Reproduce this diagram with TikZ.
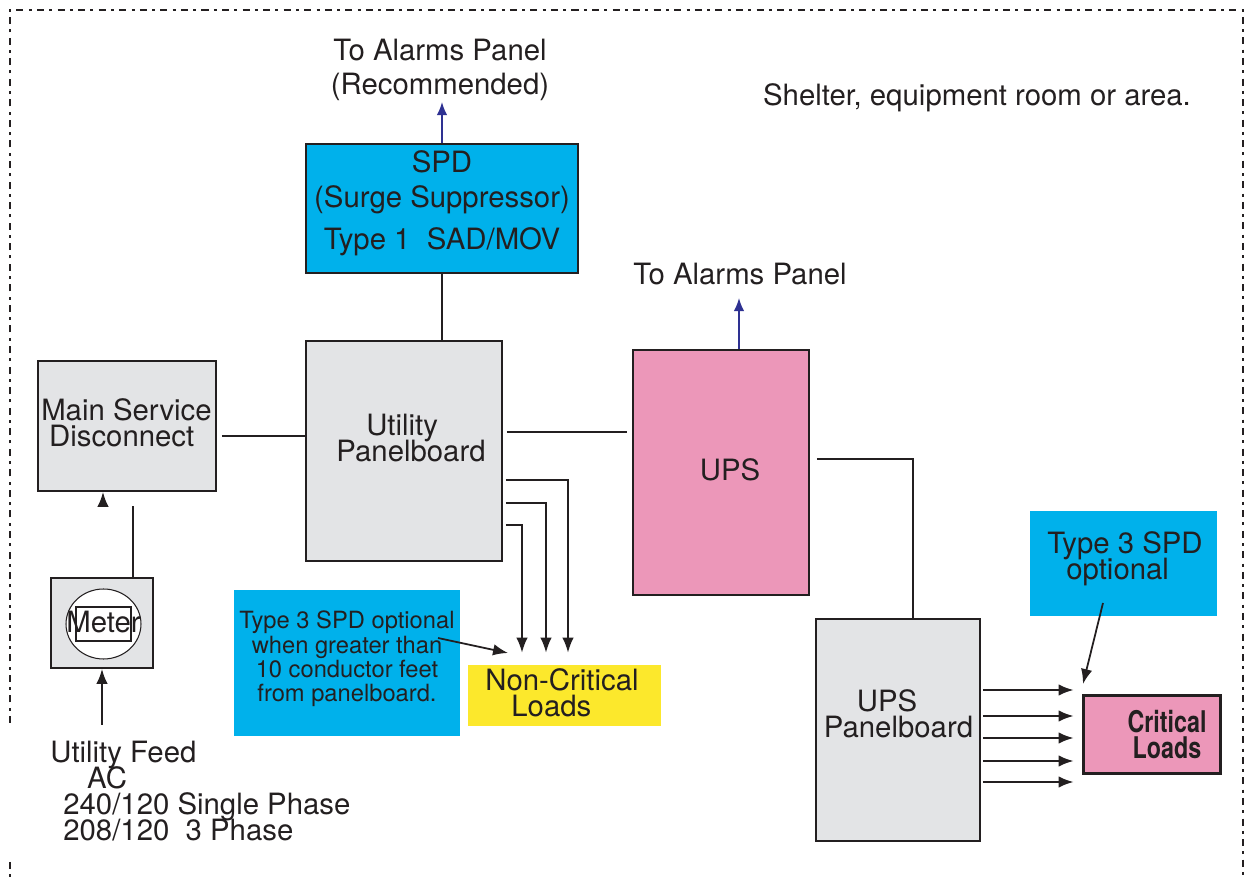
\documentclass[tikz,border=0pt]{standalone}
\usepackage{fontspec}
\setmainfont{TeX Gyre Heros}
\newfontfamily\condfont[FakeStretch=0.78]{TeX Gyre Heros}
\usetikzlibrary{arrows.meta,shapes.geometric}
\definecolor{ink}{HTML}{231F20}
\definecolor{panel}{HTML}{E3E4E6}
\definecolor{spdblue}{HTML}{00B1EB}
\definecolor{upspink}{HTML}{EC97B9}
\definecolor{loadyellow}{HTML}{FCE82C}
\definecolor{alarmblue}{HTML}{2E3192}
\newcommand\tightlines{\lineskiplimit=-20pt\lineskip=0pt}

\begin{document}
\begin{tikzpicture}[x=0.02cm,y=-0.02cm,>=Latex,
  box/.style={draw=ink,line width=1.1pt,inner sep=0pt},
  note/.style={inner sep=0pt},
  txt/.style={inner sep=0pt,text=ink,font=\fontsize{16.7}{14.8}\selectfont\tightlines},
  wire/.style={draw=ink,line width=1pt},
  arr/.style={wire,-{Latex[length=8.5pt,width=6.5pt]}},
  alarm/.style={draw=alarmblue,line width=0.9pt,-{Latex[length=7.5pt,width=6pt]}},
  frame/.style={draw=ink,line width=1pt,dash pattern=on 4pt off 3pt on 1.7pt off 3pt}]
  \useasboundingbox (0,0) rectangle (1249,878);
  % room outline
  \draw[frame] (10,723) |- (1243,10) -- (1243,878);
  \draw[frame] (10,862) -- (10,878);
  \node[txt] (room) at (977,98) {Shelter, equipment room or area.};

  % boxes
  \node[box,fill=spdblue,minimum width=5.44cm,minimum height=2.58cm] (spd) at (442,208.5) {};
  \node[box,fill=panel,minimum width=3.56cm,minimum height=2.6cm] (msd) at (127,426) {};
  \node[box,fill=panel,minimum width=3.92cm,minimum height=4.4cm] (up) at (404,451) {};
  \node[box,fill=upspink,minimum width=3.52cm,minimum height=4.9cm] (ups) at (721,472.5) {};
  \node[box,fill=panel,minimum width=3.28cm,minimum height=4.44cm] (upb) at (898,730) {};
  \node[box,fill=upspink,line width=1.7pt,minimum width=2.76cm,minimum height=1.58cm] (crit) at (1152,734.5) {};
  \node[note,fill=loadyellow,minimum width=3.86cm,minimum height=1.22cm] (ncl) at (564.5,695.5) {};
  \node[note,fill=spdblue,minimum width=4.52cm,minimum height=2.92cm] (t3l) at (347,663) {};
  \node[note,fill=spdblue,minimum width=3.74cm,minimum height=2.1cm] (t3r) at (1123.5,563.5) {};

  % meter
  \node[box,fill=panel,minimum width=2.04cm,minimum height=1.8cm] (meter) at (102,623) {};
  \node[draw=ink,fill=white,ellipse,line width=0.6pt,minimum width=1.5cm,minimum height=1.4cm,inner sep=0pt] (dial) at (103.5,624) {};
  \node[draw=ink,line width=0.6pt,minimum width=1.1cm,minimum height=0.68cm,inner sep=0pt] (window) at (103.5,624) {};
  \node[txt] (metertxt) at (103.5,622) {Meter};

  % texts
  \node[txt,align=center,font=\fontsize{16.7}{19.4}\selectfont] (alarm1) at (440,70) {To Alarms Panel\\(Recommended)};
  \node[txt] (alarm2) at (740,274) {To Alarms Panel};
  \node[txt,align=center,font=\fontsize{16.7}{19.9}\selectfont] (spdtxt) at (442,203) {SPD\\(Surge Suppressor)\\[4pt]Type 1\ \ SAD/MOV};
  \node[txt,align=left] (msdtxt) at (126.5,423) {Main Service\\\hspace*{4.5pt}Disconnect};
  \node[txt,align=left] (uptxt) at (411,438) {\hspace*{17pt}Utility\\Panelboard};
  \node[txt] (upstxt) at (730,470) {UPS};
  \node[txt,align=left] (upbtxt) at (898.5,714) {\hspace*{18.8pt}UPS\\Panelboard};
  \node[txt,align=left] (ncltxt) at (562,693) {Non-Critical\\\hspace*{14.8pt}Loads};
  \node[txt,align=left] (t3rtxt) at (1125,559) {Type 3 SPD\\\hspace*{10.8pt}optional};
  \node[txt,align=center,font=\condfont\bfseries\fontsize{17}{14.8}\selectfont\tightlines] (crittxt) at (1167,735) {Critical\\Loads};
  \node[txt,align=center,font=\fontsize{13.5}{13.9}\selectfont\tightlines] (t3ltxt) at (347,659) {Type 3 SPD optional\\when greater than\\10 conductor feet\\from panelboard.};
  \node[txt,align=left,anchor=west] (feed) at (50,791) {Utility Feed\\\hspace*{21pt}AC\\\hspace*{7.4pt}240/120 Single Phase\\\hspace*{7.4pt}208/120\ \ 3 Phase};

  % alarm leads
  \coordinate (a1) at (442,102);
  \draw[alarm] (spd.north) -- (a1);
  \coordinate (a2) at (739,298);
  \draw[alarm] (ups.north -| a2) -- (a2);

  % power path
  \coordinate (feedtail) at (102,725);
  \draw[arr] (feedtail) -- (meter.south);
  \coordinate (mtap) at (133,506);
  \draw[wire] (meter.north -| mtap) -- (mtap);
  \coordinate (mhead) at (103,507);
  \draw[arr] (mhead) -- (msd.south -| mhead);
  \draw[wire,shorten <=0.1cm] (msd.east |- 0,436) -- (up.west |- 0,436);
  \draw[wire] (spd.south) -- (spd.south |- up.north);
  \draw[wire,shorten <=0.08cm,shorten >=0.1cm] (up.east |- 0,432) -- (ups.west |- 0,432);
  \draw[wire,shorten <=0.14cm] (ups.east |- 0,459) -| (upb.north -| 913,0);

  % branch circuits
  \foreach \y/\x in {480/568,503/546,525/522}
    \draw[arr,shorten <=0.06cm,shorten >=0.24cm] (up.east |- 0,\y) -| (ncl.north -| \x,0);
  \foreach \y in {690,716,738,761,782}
    \draw[arr,shorten <=0.04cm,shorten >=0.16cm] (upb.east |- 0,\y) -- (crit.west |- 0,\y);

  % note pointers
  \coordinate (t3ltail) at (438,638);
  \coordinate (t3lhead) at (508,653);
  \draw[arr] (t3ltail) -- (t3lhead);
  \coordinate (t3rtail) at (1103,603);
  \coordinate (t3rhead) at (1083,684);
  \draw[arr] (t3rtail) -- (t3rhead);
\end{tikzpicture}
\end{document}
